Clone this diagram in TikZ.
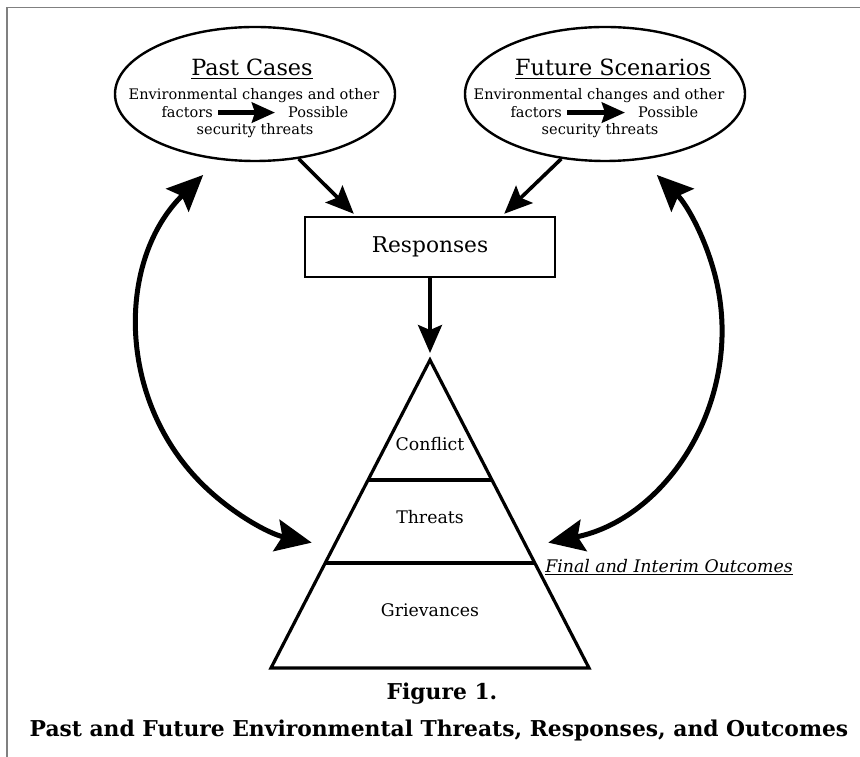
\documentclass[tikz,border=0pt]{standalone}
\usepackage{fontspec}
\setmainfont{DejaVu Serif}
\usetikzlibrary{arrows.meta,calc,shapes.geometric}
\begin{document}
\begin{tikzpicture}[x=1bp,y=1bp,
  frame/.style={draw=black!50, line width=1.8bp},
  bubble/.style={ellipse, draw, line width=2.4bp, minimum width=280bp, minimum height=134bp, inner sep=0},
  body/.style={inner sep=0, anchor=base, font=\fontsize{14.6}{17}\selectfont},
  title/.style={inner sep=0, anchor=base, font=\fontsize{22.4}{26}\selectfont},
  lbl/.style={inner sep=0, anchor=base, font=\fontsize{17.4}{20}\selectfont},
  stepbox/.style={draw, line width=2.4bp, minimum width=250bp, minimum height=60bp, inner sep=0, font=\fontsize{21.8}{26}\selectfont},
  feed/.style={line width=3.6bp, -{Stealth[length=28bp,width=24bp,inset=5bp]}},
  loop/.style={line width=5bp, {Stealth[length=36bp,width=32bp,inset=6bp]}-{Stealth[length=36bp,width=32bp,inset=6bp]}},
  inarrow/.style={line width=5bp, -{Stealth[length=23bp,width=20bp,inset=3bp]}},
  pyr/.style={line width=3.2bp, line join=miter},
  captionline/.style={inner sep=0, anchor=base, font=\fontsize{21.9}{26}\selectfont\bfseries}
]
\useasboundingbox (0,0) rectangle (860,757);

% page frame (top and left rules)
\draw[frame] (7,0) -- (7,749.5) -- (860,749.5);

% past cases bubble
\node[bubble] (past) at (255,663) {};
\node[title] (pastT) at (252,681) {\underline{Past Cases}};
\node[body] (pastL1) at (254,657) {Environmental changes and other};
\node[body, anchor=base east] (pastF) at (213,639) {factors};
\node[body, anchor=base west] (pastP) at (288,639) {Possible};
\draw[inarrow, shorten <=5bp, shorten >=13bp] (pastF.east) -- (pastP.west);
\node[body] (pastL3) at (255,622) {security threats};

% future scenarios bubble
\node[bubble] (fut) at (605,663) {};
\node[title] (futT) at (613,681) {\underline{Future Scenarios}};
\node[body] (futL1) at (599,657) {Environmental changes and other};
\node[body, anchor=base east] (futF) at (562,639) {factors};
\node[body, anchor=base west] (futP) at (638,639) {Possible};
\draw[inarrow, shorten <=5bp, shorten >=13bp] (futF.east) -- (futP.west);
\node[body] (futL3) at (600,622) {security threats};

% responses
\node[stepbox] (resp) at (430,510) {Responses};

% outcome pyramid
\coordinate (apex) at (430,397);
\coordinate (bl) at (271,89);
\coordinate (br) at (589,89);
\draw[pyr] (apex) -- (br) -- (bl) -- cycle;
\draw[pyr, line width=4bp] ($(apex)!0.39!(bl)$) -- ($(apex)!0.39!(br)$);
\draw[pyr, line width=4bp] ($(apex)!0.659!(bl)$) -- ($(apex)!0.659!(br)$);
\node[lbl] (conf) at (430,306) {Conflict};
\node[lbl] (thr) at (430,233) {Threats};
\node[lbl] (griev) at (430,140) {Grievances};
\node[lbl, font=\fontsize{17.4}{20}\selectfont\itshape] (outc) at (669,184) {\underline{Final and Interim Outcomes}};

% flows into and out of the responses box
\draw[feed] (past.-56) -- ($(resp.north west)+(50,2)$);
\draw[feed] (fut.-124) -- ($(resp.north east)+(-52,2)$);
\draw[feed] (resp.south) -- ($(apex)+(0,7)$);

% two-way links between the bubbles and the outcomes
\coordinate (lpA) at ($(355,427)+(134.4:217)$);
\draw[loop] (lpA) arc[start angle=134.4, end angle=258.5, radius=217];
\coordinate (rpA) at ($(505,427)+(-78.5:217)$);
\draw[loop] (rpA) arc[start angle=-78.5, end angle=45.6, radius=217];

% caption
\node[captionline] (figno) at (442,57) {Figure 1.};
\node[captionline] (figcap) at (439,20) {Past and Future Environmental Threats, Responses, and Outcomes};
\end{tikzpicture}
\end{document}
